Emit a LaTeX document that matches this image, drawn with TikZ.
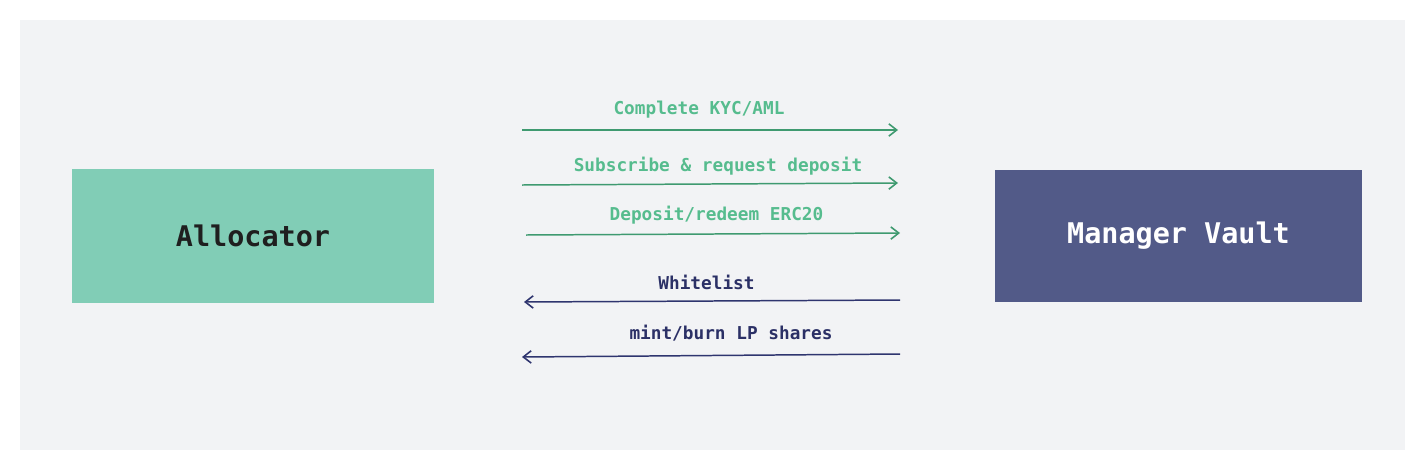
\documentclass[tikz,border=0pt]{standalone}
\usepackage{fontspec}
\setmonofont{DejaVu Sans Mono}
\usetikzlibrary{arrows.meta}
\definecolor{panelgrey}{HTML}{F2F3F5}
\definecolor{allocgreen}{HTML}{81CDB6}
\definecolor{vaultblue}{HTML}{525A88}
\definecolor{arrowgreen}{HTML}{3F9A70}
\definecolor{labelgreen}{HTML}{56BC8E}
\definecolor{arrownavy}{HTML}{2F356F}
\definecolor{labelnavy}{HTML}{2B3066}
\tikzset{
  party/.style={draw=none, inner sep=0pt, font=\ttfamily\bfseries\fontsize{16.2}{19}\selectfont},
  msg/.style={line width=0.85pt, -{Straight Barb[length=4.5pt,width=7pt,line width=0.9pt]}},
  msglabel/.style={anchor=base, inner sep=0pt, font=\ttfamily\bfseries\fontsize{10.1}{12}\selectfont}
}
\begin{document}
\begin{tikzpicture}[x=0.02cm, y=-0.02cm]
			%%%%% START %%%%%
			\useasboundingbox[fill=white] (0, 0) rectangle (1426, 467);
			\fill[panelgrey] (20, 20) rectangle (1405, 450);
			
			\node[party, fill=allocgreen, text=black!88, minimum width=362*0.02cm, minimum height=134*0.02cm] (alloc) at (253, 236) {Allocator};
			\node[party, fill=vaultblue, text=white, minimum width=367*0.02cm, minimum height=132*0.02cm] (vault) at (1178.5, 236) {Manager Vault};
			
			\coordinate (kycA) at (522, 130);
			\coordinate (kycB) at (898, 130);
			\coordinate (subA) at (522, 185);
			\coordinate (subB) at (898, 183);
			\coordinate (depA) at (526, 235);
			\coordinate (depB) at (900, 233);
			\coordinate (wlA) at (900, 300);
			\coordinate (wlB) at (524, 302);
			\coordinate (mintA) at (900, 354);
			\coordinate (mintB) at (522, 357);
			
			\draw[msg, arrowgreen] (kycA) -- (kycB);
			\draw[msg, arrowgreen] (subA) -- (subB);
			\draw[msg, arrowgreen] (depA) -- (depB);
			\draw[msg, arrownavy] (wlA) -- (wlB);
			\draw[msg, arrownavy] (mintA) -- (mintB);
			
			\node[msglabel, text=labelgreen] (kyc) at (699, 114) {Complete KYC/AML};
			\node[msglabel, text=labelgreen] (sub) at (718, 171) {Subscribe \& request deposit};
			\node[msglabel, text=labelgreen] (dep) at (716.5, 220) {Deposit/redeem ERC20};
			\node[msglabel, text=labelnavy] (wl) at (706.5, 289) {Whitelist};
			\node[msglabel, text=labelnavy] (mint) at (731, 339) {mint/burn LP shares};
			%%%%% END %%%%%
\end{tikzpicture}
\end{document}
